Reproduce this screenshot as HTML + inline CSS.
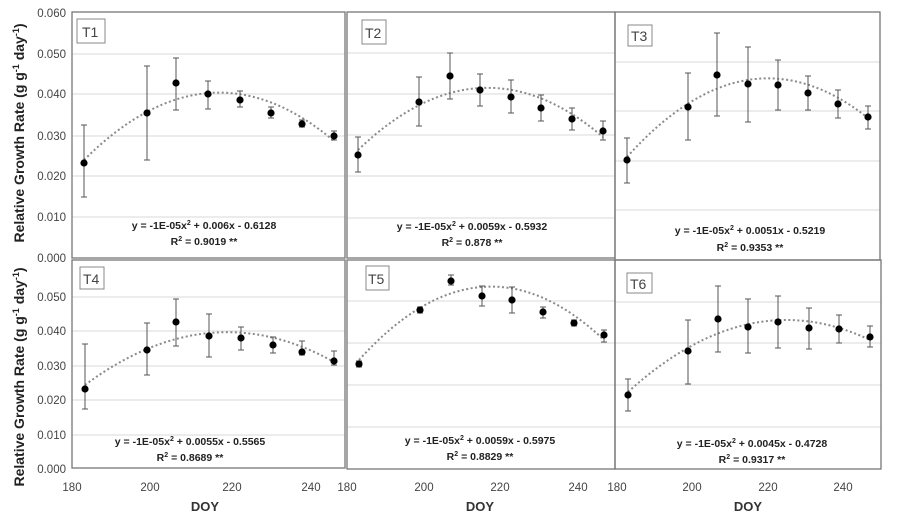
<!DOCTYPE html>
<html><head><meta charset="utf-8"><style>
body{margin:0;background:#fff}
svg{display:block}
text{font-family:"Liberation Sans",sans-serif}
.t{font-size:11.5px;fill:#444}
.eq{font-size:10.5px;font-weight:bold;fill:#222}
.g{stroke:#d9d9d9;stroke-width:1}
.b{fill:none;stroke:#777;stroke-width:1.3}
.e{stroke:#555;stroke-width:1;fill:none}
.c{fill:none;stroke:#8a8a8a;stroke-width:2;stroke-dasharray:2 2.5}
.lb{fill:#fff;stroke:#888;stroke-width:1}
.lt{font-size:14px;fill:#444}
</style></head><body>
<svg width="900" height="519" viewBox="0 0 900 519" xmlns="http://www.w3.org/2000/svg">
<!-- gridlines -->
<g class="g">
<line x1="72" x2="345" y1="54" y2="54"/><line x1="72" x2="345" y1="94" y2="94"/><line x1="72" x2="345" y1="136" y2="136"/><line x1="72" x2="345" y1="176" y2="176"/><line x1="72" x2="345" y1="217" y2="217"/>
<line x1="347" x2="615" y1="53" y2="53"/><line x1="347" x2="615" y1="94" y2="94"/><line x1="347" x2="615" y1="135" y2="135"/><line x1="347" x2="615" y1="176" y2="176"/><line x1="347" x2="615" y1="218" y2="218"/>
<line x1="615" x2="880" y1="62" y2="62"/><line x1="615" x2="880" y1="111" y2="111"/><line x1="615" x2="880" y1="161" y2="161"/><line x1="615" x2="880" y1="210" y2="210"/>
<line x1="72" x2="345" y1="297" y2="297"/><line x1="72" x2="345" y1="331" y2="331"/><line x1="72" x2="345" y1="366" y2="366"/><line x1="72" x2="345" y1="400" y2="400"/><line x1="72" x2="345" y1="435" y2="435"/>
<line x1="347" x2="615" y1="301" y2="301"/><line x1="347" x2="615" y1="343" y2="343"/><line x1="347" x2="615" y1="385" y2="385"/><line x1="347" x2="615" y1="427" y2="427"/>
<line x1="615" x2="881" y1="302" y2="302"/><line x1="615" x2="881" y1="343" y2="343"/><line x1="615" x2="881" y1="385" y2="385"/><line x1="615" x2="881" y1="427" y2="427"/>
</g>
<!-- borders -->
<rect class="b" x="72" y="12" width="273" height="246"/>
<rect class="b" x="347" y="12" width="268" height="246"/>
<rect class="b" x="615" y="12" width="265" height="248"/>
<rect class="b" x="72" y="260" width="273" height="208"/>
<rect class="b" x="347" y="260" width="268" height="209"/>
<rect class="b" x="615" y="260" width="266" height="209"/>
<!-- curves -->
<path class="c" d="M84 160 Q209 35.5 334 141"/>
<path class="c" d="M358 150 Q480.5 32.5 603 137"/>
<path class="c" d="M627 157 Q747.5 22.5 868 118"/>
<path class="c" d="M85 385 Q209.5 292.5 334 362"/>
<path class="c" d="M359 360 Q481.5 224 604 340"/>
<path class="c" d="M628 392 Q749 282 870 340"/>
<!-- error bars -->
<g class="e">
<path d="M84 125V197M81 125h6M81 197h6 M147 66V160M144 66h6M144 160h6 M176 58V110M173 58h6M173 110h6 M208 81V109M205 81h6M205 109h6 M240 91V107M237 91h6M237 107h6 M271 107V118M268 107h6M268 118h6 M302 120V127M299 120h6M299 127h6 M334 131V140M331 131h6M331 140h6"/>
<path d="M358 137V172M355 137h6M355 172h6 M419 77V126M416 77h6M416 126h6 M450 53V99M447 53h6M447 99h6 M480 74V106M477 74h6M477 106h6 M511 80V113M508 80h6M508 113h6 M541 95V121M538 95h6M538 121h6 M572 108V130M569 108h6M569 130h6 M603 121V140M600 121h6M600 140h6"/>
<path d="M627 138V183M624 138h6M624 183h6 M688 73V140M685 73h6M685 140h6 M717 33V116M714 33h6M714 116h6 M748 47V122M745 47h6M745 122h6 M778 60V110M775 60h6M775 110h6 M808 76V110M805 76h6M805 110h6 M838 90V118M835 90h6M835 118h6 M868 106V129M865 106h6M865 129h6"/>
<path d="M85 344V409M82 344h6M82 409h6 M147 323V375M144 323h6M144 375h6 M176 299V346M173 299h6M173 346h6 M209 314V357M206 314h6M206 357h6 M241 327V350M238 327h6M238 350h6 M273 337V353M270 337h6M270 353h6 M302 341V355M299 341h6M299 355h6 M334 351V365M331 351h6M331 365h6"/>
<path d="M359 361V367M356 361h6M356 367h6 M420 307V313M417 307h6M417 313h6 M451 275V285M448 275h6M448 285h6 M482 286V306M479 286h6M479 306h6 M512 287V313M509 287h6M509 313h6 M543 307V318M540 307h6M540 318h6 M574 320V326M571 320h6M571 326h6 M604 330V342M601 330h6M601 342h6"/>
<path d="M628 379V411M625 379h6M625 411h6 M688 320V384M685 320h6M685 384h6 M718 286V352M715 286h6M715 352h6 M748 299V353M745 299h6M745 353h6 M778 296V348M775 296h6M775 348h6 M809 308V349M806 308h6M806 349h6 M839 315V343M836 315h6M836 343h6 M870 326V347M867 326h6M867 347h6"/>
</g>
<!-- points -->
<g fill="#000">
<circle cx="84" cy="163" r="3.6"/><circle cx="147" cy="113" r="3.6"/><circle cx="176" cy="83" r="3.6"/><circle cx="208" cy="94" r="3.6"/><circle cx="240" cy="100" r="3.6"/><circle cx="271" cy="113" r="3.6"/><circle cx="302" cy="124" r="3.6"/><circle cx="334" cy="136" r="3.6"/>
<circle cx="358" cy="155" r="3.6"/><circle cx="419" cy="102" r="3.6"/><circle cx="450" cy="76" r="3.6"/><circle cx="480" cy="90" r="3.6"/><circle cx="511" cy="97" r="3.6"/><circle cx="541" cy="108" r="3.6"/><circle cx="572" cy="119" r="3.6"/><circle cx="603" cy="131" r="3.6"/>
<circle cx="627" cy="160" r="3.6"/><circle cx="688" cy="107" r="3.6"/><circle cx="717" cy="75" r="3.6"/><circle cx="748" cy="84" r="3.6"/><circle cx="778" cy="85" r="3.6"/><circle cx="808" cy="93" r="3.6"/><circle cx="838" cy="104" r="3.6"/><circle cx="868" cy="117" r="3.6"/>
<circle cx="85" cy="389" r="3.6"/><circle cx="147" cy="350" r="3.6"/><circle cx="176" cy="322" r="3.6"/><circle cx="209" cy="336" r="3.6"/><circle cx="241" cy="338" r="3.6"/><circle cx="273" cy="345" r="3.6"/><circle cx="302" cy="352" r="3.6"/><circle cx="334" cy="361" r="3.6"/>
<circle cx="359" cy="364" r="3.6"/><circle cx="420" cy="310" r="3.6"/><circle cx="451" cy="281" r="3.6"/><circle cx="482" cy="296" r="3.6"/><circle cx="512" cy="300" r="3.6"/><circle cx="543" cy="312" r="3.6"/><circle cx="574" cy="323" r="3.6"/><circle cx="604" cy="335" r="3.6"/>
<circle cx="628" cy="395" r="3.6"/><circle cx="688" cy="351" r="3.6"/><circle cx="718" cy="319" r="3.6"/><circle cx="748" cy="327" r="3.6"/><circle cx="778" cy="322" r="3.6"/><circle cx="809" cy="328" r="3.6"/><circle cx="839" cy="329" r="3.6"/><circle cx="870" cy="337" r="3.6"/>
</g>
<!-- panel labels -->
<rect class="lb" x="77" y="19" width="28" height="24"/><text class="lt" x="82" y="37">T1</text>
<rect class="lb" x="362" y="20" width="24" height="24"/><text class="lt" x="365" y="38">T2</text>
<rect class="lb" x="628" y="25" width="24" height="21"/><text class="lt" x="631" y="41">T3</text>
<rect class="lb" x="80" y="267" width="24" height="22"/><text class="lt" x="83" y="284">T4</text>
<rect class="lb" x="366" y="266" width="23" height="24"/><text class="lt" x="368" y="284">T5</text>
<rect class="lb" x="627" y="273" width="25" height="20"/><text class="lt" x="630" y="289">T6</text>
<!-- equations -->
<g class="eq" text-anchor="middle">
<text x="204" y="229">y = -1E-05x<tspan font-size="7" dy="-4">2</tspan><tspan dy="4"> + 0.006x - 0.6128</tspan></text>
<text x="204" y="245">R<tspan font-size="7" dy="-4">2</tspan><tspan dy="4"> = 0.9019 **</tspan></text>
<text x="472" y="230">y = -1E-05x<tspan font-size="7" dy="-4">2</tspan><tspan dy="4"> + 0.0059x - 0.5932</tspan></text>
<text x="472" y="246">R<tspan font-size="7" dy="-4">2</tspan><tspan dy="4"> = 0.878 **</tspan></text>
<text x="750" y="234">y = -1E-05x<tspan font-size="7" dy="-4">2</tspan><tspan dy="4"> + 0.0051x - 0.5219</tspan></text>
<text x="750" y="251">R<tspan font-size="7" dy="-4">2</tspan><tspan dy="4"> = 0.9353 **</tspan></text>
<text x="190" y="445">y = -1E-05x<tspan font-size="7" dy="-4">2</tspan><tspan dy="4"> + 0.0055x - 0.5565</tspan></text>
<text x="190" y="461">R<tspan font-size="7" dy="-4">2</tspan><tspan dy="4"> = 0.8689 **</tspan></text>
<text x="480" y="444">y = -1E-05x<tspan font-size="7" dy="-4">2</tspan><tspan dy="4"> + 0.0059x - 0.5975</tspan></text>
<text x="480" y="460">R<tspan font-size="7" dy="-4">2</tspan><tspan dy="4"> = 0.8829 **</tspan></text>
<text x="752" y="447">y = -1E-05x<tspan font-size="7" dy="-4">2</tspan><tspan dy="4"> + 0.0045x - 0.4728</tspan></text>
<text x="752" y="463">R<tspan font-size="7" dy="-4">2</tspan><tspan dy="4"> = 0.9317 **</tspan></text>
</g>
<!-- y tick labels -->
<g class="t" text-anchor="end">
<text x="66" y="17">0.060</text><text x="66" y="58">0.050</text><text x="66" y="98">0.040</text><text x="66" y="140">0.030</text><text x="66" y="180">0.020</text><text x="66" y="221">0.010</text><text x="66" y="262">0.000</text>
<text x="66" y="301">0.050</text><text x="66" y="335">0.040</text><text x="66" y="370">0.030</text><text x="66" y="404">0.020</text><text x="66" y="439">0.010</text><text x="66" y="473">0.000</text>
</g>
<!-- x tick labels -->
<g class="t" text-anchor="middle">
<text x="72" y="491">180</text><text x="150" y="491">200</text><text x="232" y="491">220</text><text x="311" y="491">240</text>
<text x="347" y="491">180</text><text x="424" y="491">200</text><text x="500" y="491">220</text><text x="578" y="491">240</text>
<text x="617" y="491">180</text><text x="692" y="491">200</text><text x="768" y="491">220</text><text x="843" y="491">240</text>
</g>
<g font-size="13" font-weight="bold" fill="#333" text-anchor="middle">
<text x="205" y="511">DOY</text><text x="480" y="511">DOY</text><text x="748" y="511">DOY</text>
</g>
<g font-size="14" font-weight="bold" fill="#222" text-anchor="middle">
<text transform="translate(24,133) rotate(-90)">Relative Growth Rate (g g<tspan font-size="9" dy="-5">-1</tspan><tspan dy="5"> day</tspan><tspan font-size="9" dy="-5">-1</tspan><tspan dy="5">)</tspan></text>
<text transform="translate(24,377) rotate(-90)">Relative Growth Rate (g g<tspan font-size="9" dy="-5">-1</tspan><tspan dy="5"> day</tspan><tspan font-size="9" dy="-5">-1</tspan><tspan dy="5">)</tspan></text>
</g>
</svg>
</body></html>
